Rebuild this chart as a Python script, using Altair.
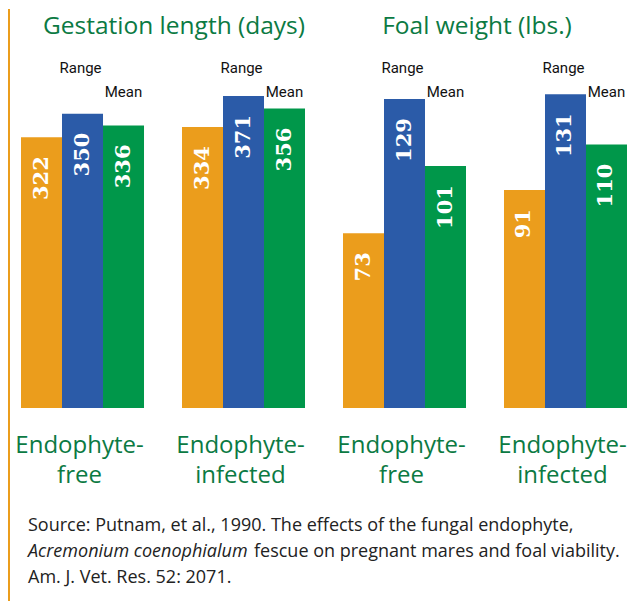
import altair as alt
import pandas as pd

# ---- data ----
groups = ["gest_free", "gest_inf", "foal_free", "foal_inf"]
group_panels = ["gest", "gest", "foal", "foal"]
group_labels = ["Endophyte-\nfree", "Endophyte-\ninfected", "Endophyte-\nfree", "Endophyte-\ninfected"]
series = ["Range low", "Range high", "Mean"]
series_colors = ["#EB9D1C", "#2B5BA8", "#00974A"]
series_tags = ["", "Range", "Mean"]

gest_low = [322, 334]
gest_high = [350, 371]
gest_mean = [336, 356]
foal_low = [73, 91]
foal_high = [129, 131]
foal_mean = [101, 110]

panel_titles = ["Gestation length (days)", "Foal weight (lbs.)"]
source_line1 = "Source: Putnam, et al., 1990. The effects of the fungal endophyte,"
source_line2_italic = "Acremonium coenophialum"
source_line2_rest = "fescue on pregnant mares and foal viability."
source_line3 = "Am. J. Vet. Res. 52: 2071."

TITLE_GREEN = "#0B7A43"

rows = []
for gi, g in enumerate(groups[:2]):
    for s, v in zip(series, [gest_low[gi], gest_high[gi], gest_mean[gi]]):
        rows.append({"group": g, "panel": "gest", "series": s, "value": v})
for gi, g in enumerate(groups[2:]):
    for s, v in zip(series, [foal_low[gi], foal_high[gi], foal_mean[gi]]):
        rows.append({"group": g, "panel": "foal", "series": s, "value": v})
df = pd.DataFrame(rows)

tags_df = pd.DataFrame(
    [{"group": g, "series": s, "tag": t} for g in groups for s, t in zip(series, series_tags) if t]
)
labels_df = pd.DataFrame({"group": groups, "label": group_labels})

x_enc = alt.X(
    "group:N",
    sort=groups,
    scale=alt.Scale(domain=groups, paddingInner=0.236, paddingOuter=0.0435, align=0.9286),
    axis=None,
)
xo_enc = alt.XOffset("series:N", sort=series,
                     scale=alt.Scale(domain=series, paddingInner=0, paddingOuter=0))
color_enc = alt.Color("series:N", scale=alt.Scale(domain=series, range=series_colors), legend=None)

base = alt.Chart(df)


def panel_layers(panel, dmax):
    y_enc = alt.Y("value:Q", scale=alt.Scale(domain=[0, dmax], nice=False, zero=True), axis=None)
    sub = base.transform_filter(alt.datum.panel == panel)
    bars = sub.mark_bar().encode(x=x_enc, xOffset=xo_enc, y=y_enc, color=color_enc)
    txt = sub.mark_text(
        angle=270, align="right", baseline="middle", dx=-19,
        font="DejaVu Serif", fontWeight="bold", fontSize=21, color="white",
    ).encode(x=x_enc, xOffset=xo_enc, y=y_enc, text="value:Q")
    return [bars, txt]


layers = panel_layers("gest", 474.4) + panel_layers("foal", 166.6)

tag_base = alt.Chart(tags_df)
range_tags = tag_base.transform_filter(alt.datum.tag == "Range").mark_text(
    font="Roboto", fontSize=15, color="#111111", align="center", baseline="alphabetic", dx=-2
).encode(x=x_enc, xOffset=xo_enc, y=alt.value(64), text="tag:N")
mean_tags = tag_base.transform_filter(alt.datum.tag == "Mean").mark_text(
    font="Roboto", fontSize=15, color="#111111", align="center", baseline="alphabetic"
).encode(x=x_enc, xOffset=xo_enc, y=alt.value(88), text="tag:N")

cat_labels = alt.Chart(labels_df).mark_text(
    font="Open Sans", fontSize=24, color=TITLE_GREEN, align="center",
    baseline="alphabetic", lineBreak="\n", lineHeight=30, dx=-3,
).encode(x=x_enc, y=alt.value(444), text="label:N")

title_df = pd.DataFrame({"t": panel_titles, "i": [0, 1]})
title1 = alt.Chart(title_df).transform_filter(alt.datum.i == 0).mark_text(
    font="Open Sans", fontSize=24.5, color=TITLE_GREEN, align="center", baseline="alphabetic"
).encode(x=alt.value(166), y=alt.value(25), text="t:N")
title2 = alt.Chart(title_df).transform_filter(alt.datum.i == 1).mark_text(
    font="Open Sans", fontSize=24.5, color=TITLE_GREEN, align="center", baseline="alphabetic"
).encode(x=alt.value(469), y=alt.value(25), text="t:N")

src_df = pd.DataFrame({"t": [source_line1, source_line2_italic, source_line2_rest, source_line3],
                       "i": [0, 1, 2, 3]})
src_kw = dict(font="Open Sans", fontSize=18, color="#222222", align="left", baseline="alphabetic")
src1 = alt.Chart(src_df).transform_filter(alt.datum.i == 0).mark_text(**src_kw).encode(
    x=alt.value(20), y=alt.value(522), text="t:N")
src2a = alt.Chart(src_df).transform_filter(alt.datum.i == 1).mark_text(fontStyle="italic", **src_kw).encode(
    x=alt.value(20), y=alt.value(548), text="t:N")
src2b = alt.Chart(src_df).transform_filter(alt.datum.i == 2).mark_text(**src_kw).encode(
    x=alt.value(246), y=alt.value(548), text="t:N")
src3 = alt.Chart(src_df).transform_filter(alt.datum.i == 3).mark_text(**src_kw).encode(
    x=alt.value(20), y=alt.value(574), text="t:N")

border = alt.Chart(title_df).transform_filter(alt.datum.i == 0).mark_rule(
    color="#EB9D1C", strokeWidth=2
).encode(x=alt.value(1), y=alt.value(0), y2=alt.value(592))

chart = alt.layer(
    *layers, range_tags, mean_tags, cat_labels, title1, title2, src1, src2a, src2b, src3, border
).resolve_scale(y="independent").properties(
    width=620, height=399, padding=0, background="white"
).configure_view(stroke=None)

chart.save("out.html", embed_options={"renderer": "svg", "actions": False})
